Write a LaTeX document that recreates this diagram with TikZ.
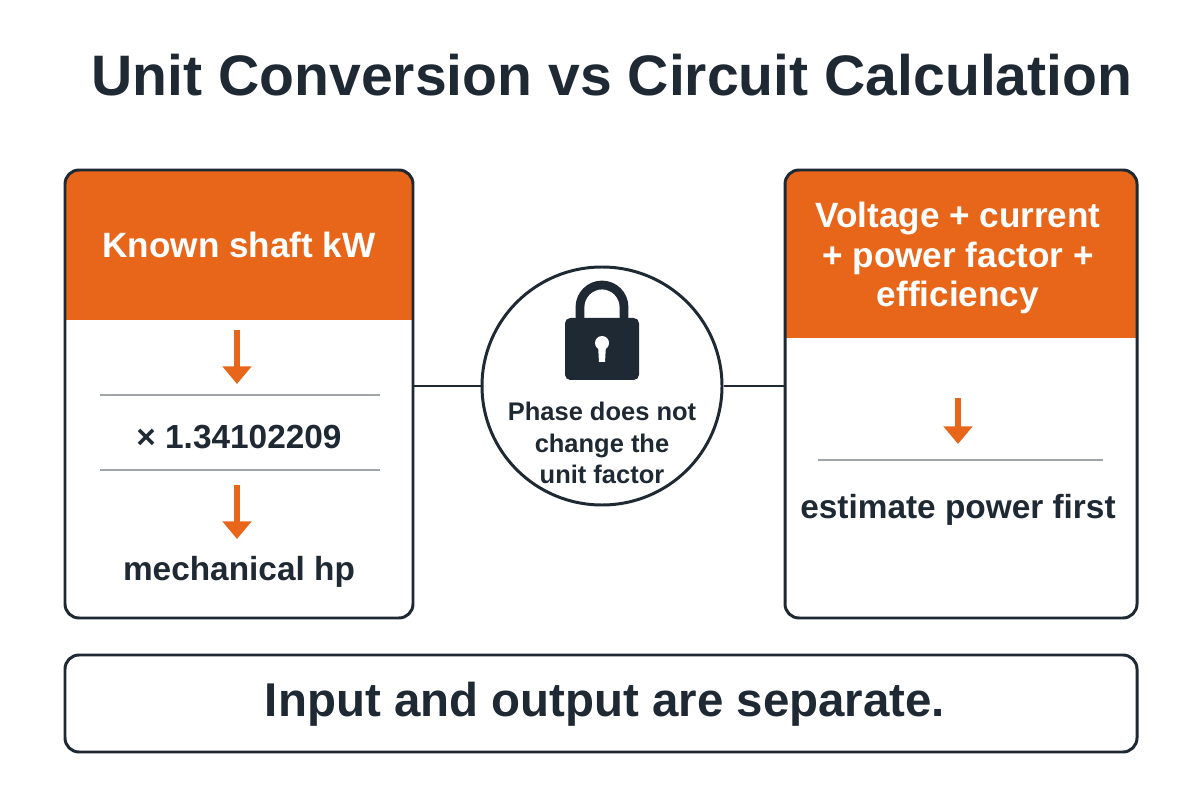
\documentclass[tikz,border=0pt]{standalone}
\usepackage{fontspec}
\setmainfont{Liberation Sans}
\usetikzlibrary{arrows.meta,shapes.geometric}
\definecolor{accent}{HTML}{E8661A}
\definecolor{ink}{HTML}{1F2933}
\definecolor{rule}{HTML}{A0A4A8}
\begin{document}
\begin{tikzpicture}[x=0.02cm,y=-0.02cm,
    panel/.style={draw=ink, line width=1.7pt, rounded corners=8pt},
    txt/.style={text=ink, font=\fontsize{19}{22}\selectfont\bfseries, align=center},
    head/.style={text=white, font=\fontsize{20}{22.5}\selectfont\bfseries, align=center},
    down/.style={draw=accent, line width=3.4pt, -{Triangle[length=10pt,width=16pt]}},
    sep/.style={draw=rule, line width=1.2pt}]
\useasboundingbox[fill=white] (0,0) rectangle (1200,800);
\node[text=ink, font=\fontsize{32.5}{38}\selectfont\bfseries] (title) at (612,75) {Unit Conversion vs Circuit Calculation};

% left panel
\fill[accent, rounded corners=8pt] (65,170) rectangle (413,320);
\fill[accent] (65,250) rectangle (413,320);
\draw[panel] (65,170) rectangle (413,618);
\coordinate (lout) at (413,386);
\node[head] (lhead) at (239,245) {Known shaft kW};
\coordinate (la1) at (237,330);
\coordinate (la2) at (237,384);
\draw[down] (la1) -- (la2);
\draw[sep] (100,395) -- (380,395);
\node[txt] (factor) at (239,437) {× 1.34102209};
\draw[sep] (100,470) -- (380,470);
\coordinate (lb1) at (237,485);
\coordinate (lb2) at (237,539);
\draw[down] (lb1) -- (lb2);
\node[txt] (hp) at (239,572) {mechanical hp};

% centre circle with lock
\node[draw=ink, line width=1.7pt, ellipse, minimum width=240*0.02cm, minimum height=238*0.02cm, inner sep=0pt] (phase) at (602,386) {};
\draw[ink, line width=5pt] (580,322) -- (580,307) arc[start angle=180, end angle=0, x radius=22, y radius=-22] -- (624,322);
\fill[ink, rounded corners=3pt] (565,318) rectangle (639,380);
\fill[white] (602,343) circle[radius=7];
\fill[white] (598,345) -- (606,345) -- (605,362) -- (599,362) -- cycle;
\node[txt, font=\fontsize{14.5}{18}\selectfont\bfseries] (phasetxt) at (602,443) {Phase does not\\change the\\unit factor};

% right panel
\fill[accent, rounded corners=8pt] (785,170) rectangle (1137,338);
\fill[accent] (785,250) rectangle (1137,338);
\draw[panel] (785,170) rectangle (1137,618);
\coordinate (rin) at (785,386);
\node[head] (rhead) at (958,258) {Voltage + current\\+ power factor +\\efficiency};
\coordinate (ra1) at (958,398);
\coordinate (ra2) at (958,444);
\draw[down] (ra1) -- (ra2);
\draw[sep] (818,460) -- (1103,460);
\node[txt] (estimate) at (958,510) {estimate power first};

% connectors
\draw[ink, line width=1.7pt] (lout) -- (phase.west);
\draw[ink, line width=1.7pt] (phase.east) -- (rin);

% bottom
\draw[panel] (65,655) rectangle (1137,752);
\node[text=ink, font=\fontsize{27}{32}\selectfont\bfseries] (note) at (605,704) {Input and output are separate.};
\end{tikzpicture}
\end{document}
